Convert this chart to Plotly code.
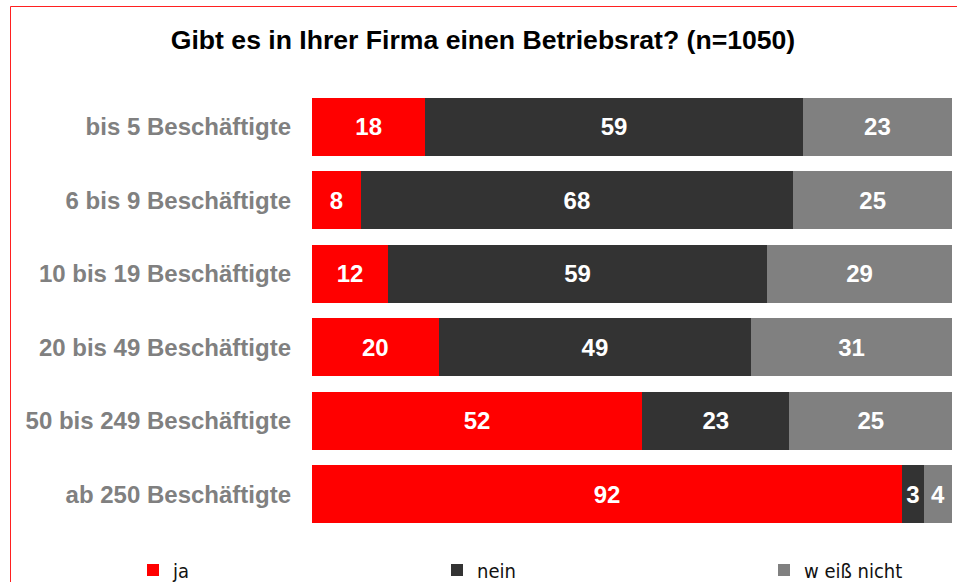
import plotly.graph_objects as go

categories = ["bis 5 Beschäftigte", "6 bis 9 Beschäftigte", "10 bis 19 Beschäftigte",
              "20 bis 49 Beschäftigte", "50 bis 249 Beschäftigte", "ab 250 Beschäftigte"]
ja = [17.7, 7.6, 11.9, 19.8, 51.6, 92.2]
nein = [59.0, 67.6, 59.2, 48.8, 23.0, 3.4]
weiss_nicht = [23.3, 24.8, 28.9, 31.4, 25.4, 4.4]

series = [
    ("ja", ja, "#FF0000", "legend", 133 / 957),
    ("nein", nein, "#333333", "legend2", 437 / 957),
    ("w eiß nicht", weiss_nicht, "#808080", "legend3", 764 / 957),
]

fig = go.Figure()
for name, vals, color, leg, _ in series:
    fig.add_trace(go.Bar(
        y=categories, x=vals, name=name, orientation="h",
        marker=dict(color=color, line=dict(width=0)),
        text=vals, texttemplate="%{x:.0f}", textposition="inside",
        insidetextanchor="middle",
        textfont=dict(family="Liberation Sans, Arial, sans-serif", size=24, color="white", weight="bold"),
        legend=leg, hoverinfo="skip",
    ))

legend_common = dict(orientation="h", yanchor="middle", yref="container", y=1 - 570 / 582,
                     xanchor="left", xref="container",
                     bgcolor="rgba(0,0,0,0)", borderwidth=0,
                     font=dict(family="Liberation Sans Narrow, Arial Narrow, DejaVu Sans Condensed, sans-serif",
                               size=20, color="#111111"))

fig.update_layout(
    width=957, height=582,
    margin=dict(l=312, r=5, t=90, b=51, autoexpand=False),
    paper_bgcolor="white", plot_bgcolor="white",
    barmode="stack", bargap=0.21,
    showlegend=True,
    title=dict(text="<b>Gibt es in Ihrer Firma einen Betriebsrat? (n=1050)</b>",
               x=483 / 957, xanchor="center", xref="container",
               y=1 - 40 / 582, yanchor="middle", yref="container",
               font=dict(family="Liberation Sans, Arial, sans-serif", size=26.6, color="black")),
    xaxis=dict(range=[0, 100], visible=False, fixedrange=True),
    yaxis=dict(autorange="reversed", showgrid=False, zeroline=False, showline=False,
               ticks="", ticklabelstandoff=20, fixedrange=True,
               tickfont=dict(family="Liberation Sans, Arial, sans-serif", size=24,
                             color="#808080", weight="bold")),
    legend=dict(legend_common, x=series[0][4]),
    legend2=dict(legend_common, x=series[1][4]),
    legend3=dict(legend_common, x=series[2][4]),
    shapes=[dict(type="rect", xref="paper", yref="paper",
                 x0=(10.5 - 312) / 640, x1=(970 - 312) / 640,
                 y0=(531 - 600) / 441, y1=(531 - 6.5) / 441,
                 line=dict(color="#FF2020", width=1), fillcolor="rgba(0,0,0,0)", layer="below")],
)

fig.write_html("out.html", config={"displayModeBar": False},
               post_script="document.body.style.margin='0';document.body.style.padding='0';")
